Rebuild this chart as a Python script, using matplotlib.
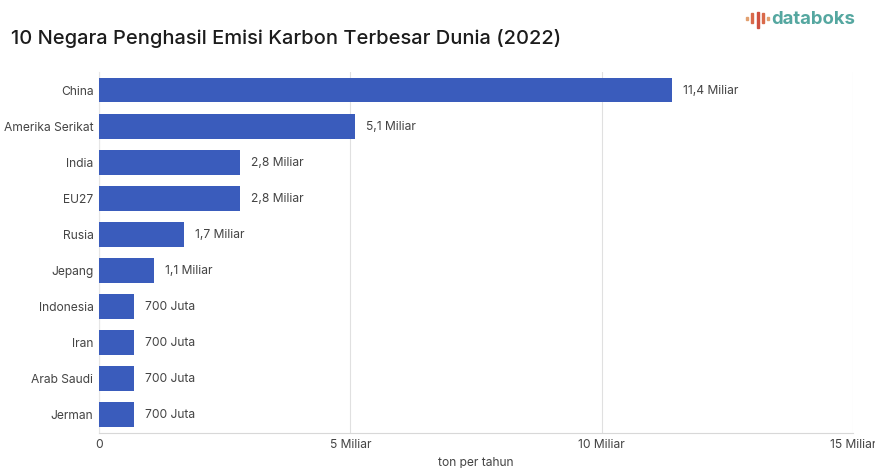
import matplotlib.pyplot as plt
from matplotlib.patches import Rectangle

plt.rcParams['font.family'] = ['Inter', 'DejaVu Sans']

negara = ['China', 'Amerika Serikat', 'India', 'EU27', 'Rusia', 'Jepang',
          'Indonesia', 'Iran', 'Arab Saudi', 'Jerman']
emisi = [11.4, 5.1, 2.8, 2.8, 1.7, 1.1, 0.7, 0.7, 0.7, 0.7]
label_emisi = ['11,4 Miliar', '5,1 Miliar', '2,8 Miliar', '2,8 Miliar', '1,7 Miliar',
               '1,1 Miliar', '700 Juta', '700 Juta', '700 Juta', '700 Juta']
x_ticks = [0, 5, 10, 15]
x_labels = ['0', '5 Miliar', '10 Miliar', '15 Miliar']

W, H = 875, 468
UKURAN = 8.7
WARNA_TEKS = '#444444'

fig = plt.figure(figsize=(W / 100, H / 100), dpi=100)
ax = fig.add_axes([99 / W, 1 - 432.5 / H, 754 / W, 360.5 / H])

# batang horizontal, negara terbesar di atas
ax.barh(negara, emisi, height=0.69, color='#3a5cbc', zorder=3)
ax.set_ylim(9.5, -0.5)
ax.set_xlim(0, 15)

for i, v in enumerate(emisi):
    ax.annotate(label_emisi[i], (v, i), xytext=(11, -1), textcoords='offset pixels',
                va='center', ha='left', fontsize=UKURAN, color=WARNA_TEKS)

ax.set_xticks(x_ticks)
ax.set_xticklabels(x_labels, fontsize=UKURAN, color=WARNA_TEKS)
ax.tick_params(axis='x', length=0, pad=5)
ax.tick_params(axis='y', length=0, pad=4, labelsize=UKURAN, labelcolor=WARNA_TEKS)
ax.grid(axis='x', color='#e0e0e0', linewidth=0.8, zorder=0)
ax.set_axisbelow(True)

for side in ['top', 'right']:
    ax.spines[side].set_visible(False)
ax.spines['left'].set_color('#e6e6e6')
ax.spines['bottom'].set_color('#d8d8d8')

fig.text(438 / W, 1 - 463 / H, 'ton per tahun', fontsize=UKURAN, color=WARNA_TEKS,
         ha='left', va='center')
fig.text(11 / W, 1 - 38.5 / H, '10 Negara Penghasil Emisi Karbon Terbesar Dunia (2022)',
         fontsize=14.45, color='#1c1c1c', ha='left', va='center', fontweight='medium')

# logo databoks
logo_x = [746, 751, 756.5, 762, 767]
logo_top = [17, 13, 12, 13, 17]
logo_bot = [20, 23, 28, 23, 20]
logo_warna = ['#e2a070', '#d9694a', '#cf5040', '#d9694a', '#e2a070']
for x0, t, b, c in zip(logo_x, logo_top, logo_bot, logo_warna):
    fig.add_artist(Rectangle((x0 / W, 1 - b / H), 2.2 / W, (b - t) / H, color=c,
                             transform=fig.transFigure))
fig.text(771 / W, 1 - 20 / H, 'databoks', fontsize=13.3, fontweight='bold',
         color='#55a7a0', ha='left', va='center')

plt.savefig('out.png', dpi=100)
